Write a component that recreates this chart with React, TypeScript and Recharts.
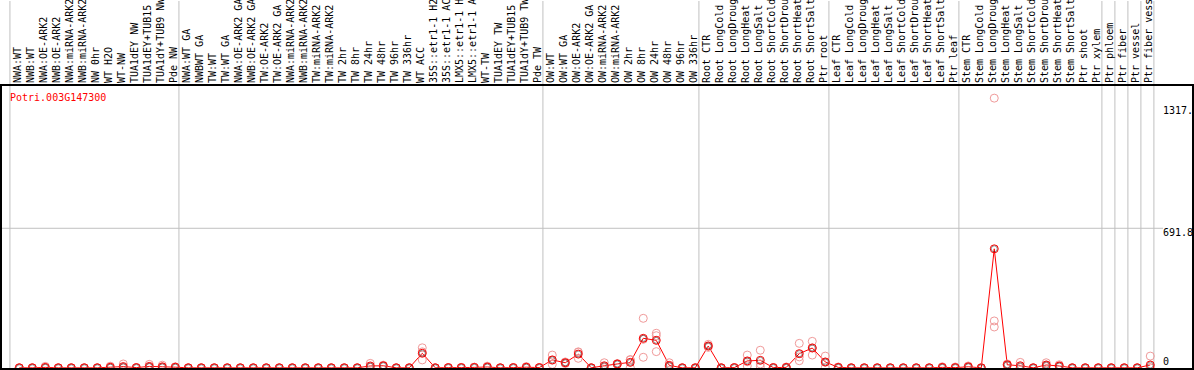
import React from 'react';
import { ComposedChart, XAxis, YAxis, Line, Scatter, ReferenceLine } from 'recharts';

// sample names, one per column (as far as they can be read in the header)
const LABELS = [
  'NWA:WT', 'NWB:WT', 'NWA:OE-ARK2', 'NWB:OE-ARK2', 'NWA:miRNA-ARK2', 'NWB:miRNA-ARK2', 'NW 0hr',
  'WT H2O', 'WT-NW', 'TUA1dEY NW', 'TUA1dEY+TUB15', 'TUA1dY+TUB9 NW', 'Pde NW',
  'NWA:WT GA', 'NWBWT GA', 'TW:WT', 'TW:WT GA', 'NWA:OE-ARK2 GA', 'NWB:OE-ARK2 GA', 'TW:OE-ARK2',
  'TW:OE-ARK2 GA', 'NWA:miRNA-ARK2', 'NWB:miRNA-ARK2', 'TW:miRNA-ARK2', 'TW:miRNA-ARK2',
  'TW 2hr', 'TW 8hr', 'TW 24hr', 'TW 48hr', 'TW 96hr', 'TW 336hr', 'WT ACC',
  '35S::etr1-1 H2O', '35S::etr1-1 ACC', 'LMX5::etr1-1 H2O', 'LMX5::etr1-1 ACC', 'WT-TW',
  'TUA1dEY TW', 'TUA1dEY+TUB15', 'TUA1dY+TUB9 TW', 'Pde TW',
  'OW:WT', 'OW:WT GA', 'OW:OE-ARK2', 'OW:OE-ARK2 GA', 'OW:miRNA-ARK2', 'OW:miRNA-ARK2',
  'OW 2hr', 'OW 8hr', 'OW 24hr', 'OW 48hr', 'OW 96hr', 'OW 336hr',
  'Root CTR', 'Root LongCold', 'Root LongDroug', 'Root LongHeat', 'Root LongSalt',
  'Root ShortCold', 'Root ShortDrou', 'Root ShortHeat', 'Root ShortSalt', 'Ptr root',
  'Leaf CTR', 'Leaf LongCold', 'Leaf LongDroug', 'Leaf LongHeat', 'Leaf LongSalt',
  'Leaf ShortCold', 'Leaf ShortDrou', 'Leaf ShortHeat', 'Leaf ShortSalt', 'Ptr leaf',
  'Stem CTR', 'Stem LongCold', 'Stem LongDroug', 'Stem LongHeat', 'Stem LongSalt',
  'Stem ShortCold', 'Stem ShortDrou', 'Stem ShortHeat', 'Stem ShortSalt', 'Ptr shoot', 'Ptr xylem',
  'Ptr phloem', 'Ptr fiber', 'Ptr vessel', 'Ptr fiber vessel',
];

// mean expression per sample
const MEAN = [
  1, 1, 3, 1, 1, 1, 1, 4, 7, 2, 8, 6, 4,
  1, 1, 1, 1, 1, 1, 1, 1, 1, 1, 1, 1, 1, 1, 10, 11, 1, 1, 73, 1, 2, 2, 3, 5, 1, 2, 4, 2,
  40, 26, 69, 1, 11, 20, 28, 147, 137, 13, 1, 1,
  109, 1, 2, 35, 38, 2, 3, 71, 99, 30,
  3, 1, 1, 1, 1, 1, 1, 1, 3, 2,
  6, 1, 590, 16, 11, 1, 15, 10, 1, 1, 1,
  1, 1, 1, 15,
];

// replicates
const REP1 = [
  1, 1, 8, 1, 1, 1, 1, 9, 20, 2, 18, 14, 6,
  1, 1, 1, 1, 1, 1, 1, 1, 1, 1, 1, 1, 1, 1, 23, 14, 1, 1, 100, 1, 2, 3, 4, 9, 1, 2, 7, 2,
  64, 30, 78, 1, 26, 22, 40, 246, 172, 26, 1, 1,
  117, 1, 2, 64, 88, 2, 5, 122, 132, 59,
  5, 1, 1, 1, 1, 1, 1, 1, 6, 5,
  10, 1, 1336, 20, 28, 1, 26, 16, 1, 1, 1,
  1, 1, 1, 59,
];
const REP2 = [
  1, 1, 1, 1, 1, 1, 1, 2, 1, 2, 4, 3, 4,
  1, 1, 1, 1, 1, 1, 1, 1, 1, 1, 1, 1, 1, 1, 4, 10, 1, 1, 80, 1, 2, 2, 3, 4, 1, 2, 3, 2,
  38, 26, 80, 1, 5, 20, 42, 142, 160, 8, 1, 1,
  108, 1, 2, 31, 20, 2, 2, 55, 100, 28,
  3, 1, 1, 1, 1, 1, 1, 1, 2, 1,
  5, 1, 233, 16, 3, 1, 12, 8, 1, 1, 1,
  1, 1, 1, 2,
];
const REP3 = [
  1, 1, 1, 1, 1, 1, 1, 1, 1, 2, 2, 1, 2,
  1, 1, 1, 1, 1, 1, 1, 1, 1, 1, 1, 1, 1, 1, 3, 9, 1, 1, 40, 1, 2, 2, 3, 2, 1, 2, 2, 2,
  18, 22, 48, 1, 2, 18, 2, 53, 81, 5, 1, 1,
  102, 1, 2, 10, 6, 2, 1, 36, 64, 3,
  1, 1, 1, 1, 1, 1, 1, 1, 1, 1,
  3, 1, 203, 12, 2, 1, 7, 6, 1, 1, 1,
  1, 1, 1, 1,
];

// first column of each tissue block (separator drawn before it)
const GROUP_STARTS = [0, 13, 41, 53, 63, 73, 84, 85, 86, 87, 88];
const Y_TICKS = [0, 691.8, 1317];
const Y_TICK_TEXT: Record<number, string> = { 0: '0', 691.8: '691.8', 1317: '1317.' };
const GENE = 'Potri.003G147300';

const data = MEAN.map((m, i) => ({ idx: i, mean: m, r1: REP1[i], r2: REP2[i], r3: REP3[i] }));
const IDX = MEAN.map((_, i) => i);

const MONO = '"DejaVu Sans Mono", monospace';
const GRID = '#c0c0c0';

const HeaderTick = ({ x, payload }: any) => (
  <text
    transform={`translate(${x + 2},83) rotate(-90)`}
    fontFamily={MONO}
    fontSize={10}
    fill="#000"
  >
    {LABELS[payload.value]}
  </text>
);

const ValueTick = ({ x, y, payload }: any) => {
  const v = payload.value;
  const dy = v === 0 ? -3 : v === 1317 ? 12 : 8;
  return (
    <text x={x} y={y + dy} fontFamily={MONO} fontSize={10} fill="#000">
      {Y_TICK_TEXT[v]}
    </text>
  );
};

const RepDot = ({ cx, cy }: any) => (
  <circle cx={cx} cy={cy} r={4} fill="none" stroke="#f09a9a" strokeWidth={1} />
);

const MeanDot = ({ cx, cy, index }: any) => (
  <g key={index}>
    <circle cx={cx} cy={cy} r={4} fill="none" stroke="#ff0000" strokeWidth={1} />
    <circle cx={cx} cy={cy} r={3} fill="none" stroke="#000" strokeOpacity={0.4} strokeWidth={1} />
  </g>
);

export default function App() {
  return (
    <div style={{ position: 'absolute', left: 0, top: 0, width: 1194, height: 370, background: '#fff' }}>
      <ComposedChart width={1194} height={370} data={data} margin={{ top: 0, right: 0, left: 2, bottom: 2 }}>
        <XAxis
          type="number"
          dataKey="idx"
          orientation="top"
          height={1}
          domain={[-1.33, 87.98]}
          allowDataOverflow
          ticks={IDX}
          interval={0}
          tickLine={false}
          axisLine={false}
          tick={<HeaderTick />}
        />
        <YAxis
          orientation="right"
          width={31}
          domain={[0, 1817]}
          allowDataOverflow
          ticks={Y_TICKS}
          interval={0}
          tickLine={false}
          axisLine={false}
          tickSize={0}
          tickMargin={0}
          tick={<ValueTick />}
        />
        {GROUP_STARTS.map((g) => (
          <ReferenceLine key={g} x={g - 0.72} stroke={GRID} strokeWidth={1} />
        ))}
        <ReferenceLine y={691.8} stroke={GRID} strokeWidth={1} />
        <Scatter dataKey="r1" shape={<RepDot />} isAnimationActive={false} />
        <Scatter dataKey="r2" shape={<RepDot />} isAnimationActive={false} />
        <Scatter dataKey="r3" shape={<RepDot />} isAnimationActive={false} />
        <Line
          type="linear"
          dataKey="mean"
          stroke="#ff0000"
          strokeWidth={1}
          dot={MeanDot}
          activeDot={false}
          isAnimationActive={false}
        />
      </ComposedChart>
      <div
        style={{
          position: 'absolute', left: 10, top: 92.5, fontFamily: MONO, fontSize: 10,
          lineHeight: '10px', color: '#ff0000', whiteSpace: 'nowrap',
        }}
      >
        {GENE}
      </div>
      <div
        style={{
          position: 'absolute', left: 0, top: 84, width: 1194, height: 286,
          boxSizing: 'border-box', border: '2px solid #000', pointerEvents: 'none',
        }}
      />
    </div>
  );
}
